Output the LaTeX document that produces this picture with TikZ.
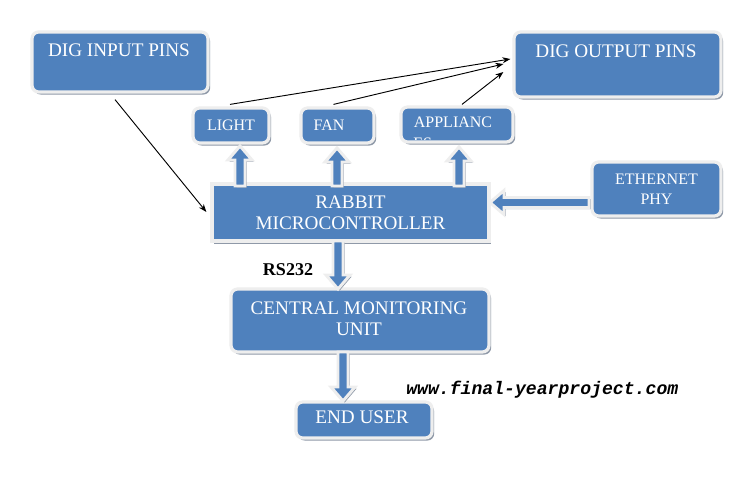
\documentclass[tikz,border=0pt]{standalone}
\usepackage{fontspec}
\setmainfont{Liberation Serif}
\newfontfamily\webfont{Liberation Mono}
\usetikzlibrary{shadows,calc,arrows.meta}
\definecolor{boxblue}{HTML}{4F81BD}
\definecolor{rimc}{HTML}{EEEEEE}
\definecolor{shadc}{HTML}{8F99A8}
\newcommand{\vblockarrow}[3]{%
  \pgfmathsetmacro{\hbase}{#3+ifthenelse(#2>#3,14,-14)}%
  \filldraw[blockarrow] (#1-5,#2) -- (#1-5,\hbase) -- (#1-12,\hbase) -- (#1,#3) -- (#1+12,\hbase) -- (#1+5,\hbase) -- (#1+5,#2) -- cycle;}
\newcommand{\hblockarrow}[3]{%
  \pgfmathsetmacro{\hbase}{#3+ifthenelse(#2>#3,14,-14)}%
  \filldraw[blockarrow] (#2,#1-5) -- (\hbase,#1-5) -- (\hbase,#1-12) -- (#3,#1) -- (\hbase,#1+12) -- (\hbase,#1+5) -- (#2,#1+5) -- cycle;}
\begin{document}
\begin{tikzpicture}[x=0.75pt,y=-0.75pt,
  box/.style={draw=rimc, line width=2.4pt, fill=boxblue, rounded corners=5pt,
    drop shadow={shadow xshift=1.6pt,shadow yshift=-1.9pt,fill=shadc,opacity=1},
    inner sep=0pt, text=white, align=center},
  sqbox/.style={box, sharp corners},
  big/.style={font=\fontsize{14.4}{15.75}\selectfont},
  small/.style={font=\fontsize{12}{15}\selectfont},
  lbl/.style={text=white, inner sep=0pt, align=center},
  blockarrow/.style={fill=boxblue, draw=rimc, line width=2.2pt, line join=miter,
    drop shadow={shadow xshift=1.2pt,shadow yshift=-1.2pt,fill=shadc,opacity=1}},
  thinarrow/.style={draw=black, line width=0.7pt, -{Stealth[length=6pt,width=4.5pt]}}]
\fill[white] (0,0) rectangle (754,484);
\useasboundingbox (0,0) rectangle (754,484);

% boxes
\node[box, minimum width=132pt, minimum height=45pt] (din) at (120,62) {};
\node[lbl, big] (dintxt) at (119,50) {DIG INPUT PINS};
\node[box, minimum width=155.25pt, minimum height=48.75pt] (dout) at (617.5,64.5) {};
\node[lbl, big] (douttxt) at (616,51) {DIG OUTPUT PINS};
\node[box, small, minimum width=57pt, minimum height=26.25pt] (lig) at (231,125.5) {LIGHT};
\node[box, minimum width=54.75pt, minimum height=26.25pt] (fan) at (337.5,125.5) {};
\node[lbl, small] (fantxt) at (329,125) {FAN};
\node[box, minimum width=84pt, minimum height=26.25pt] (app) at (457,124.5) {};
\begin{scope}
  \clip (403,109) rectangle (511,139.5);
  \node[lbl, small] (apptxt) at (453,122) {APPLIANC};
  \node[lbl, small, anchor=west] (apptxt2) at (413,143) {ES};
\end{scope}
\node[sqbox, big, minimum width=207.75pt, minimum height=42.75pt] (rab) at (350.5,212.5) {RABBIT\\MICROCONTROLLER};
\node[box, font=\fontsize{12}{15}\selectfont, minimum width=96.75pt, minimum height=40.5pt] (eth) at (656.5,189) {ETHERNET\\PHY};
\node[box, big, minimum width=193.5pt, minimum height=47.25pt] (cmu) at (360,320.5) {};
\node[lbl, big] (cmutxt) at (359,318.5) {CENTRAL MONITORING\\UNIT};
\node[box, big, minimum width=102pt, minimum height=27pt] (end) at (364,420) {};
\node[lbl, big] (endtxt) at (362,417.5) {END USER};

% block arrows
\vblockarrow{240}{186}{146}
\vblockarrow{337}{186}{148}
\vblockarrow{459}{186}{147}
\vblockarrow{338}{241}{289}
\vblockarrow{343}{352}{401}
\hblockarrow{202.5}{589}{490}

% thin arrows
\draw[thinarrow] ($(din.south)+(-5,6)$) -- ($(rab.west)+(-4,-0.5)$);
\draw[thinarrow] ($(lig.north)+(-1,-2)$) -- ($(dout.west)+(-2,-5.5)$);
\draw[thinarrow] ($(fan.north)+(-4,-2)$) -- ($(dout.west)+(-9,-0.5)$);
\draw[thinarrow] ($(app.north)+(5,-1)$) -- ($(dout.west)+(-9,7.5)$);

% labels
\node[font=\bfseries\fontsize{13.5}{15}\selectfont, inner sep=0pt] (rs) at (288,270) {RS232};
\node[font=\webfont\bfseries\itshape\fontsize{13.6}{15}\selectfont, inner sep=0pt, anchor=base west] (web) at (406,395) {www.final-yearproject.com};
\end{tikzpicture}
\end{document}
